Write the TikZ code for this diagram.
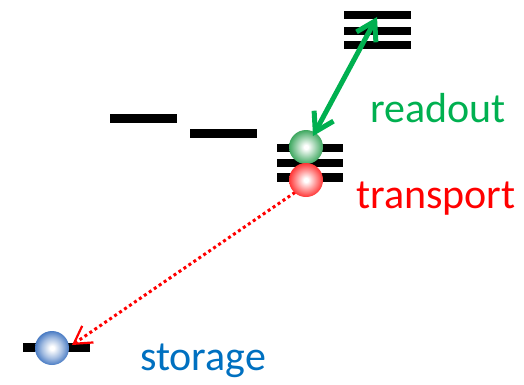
\documentclass[tikz,border=0pt]{standalone}
\usepackage{fontspec}
\setmainfont{Carlito}
\usetikzlibrary{arrows.meta}
\definecolor{rdgreen}{HTML}{00B050}
\definecolor{trred}{HTML}{FF0000}
\definecolor{stblue}{HTML}{0070C0}
\definecolor{gballc}{HTML}{3FA860}
\definecolor{rballc}{HTML}{FF3535}
\definecolor{bballc}{HTML}{4A7CC4}
% glossy particle shadings: white core, coloured rim
\pgfdeclareradialshading{gballsh}{\pgfpoint{0bp}{0bp}}{color(0bp)=(white); color(3bp)=(white); color(15bp)=(gballc!55); color(25bp)=(gballc); color(31bp)=(gballc!80!black); color(50bp)=(gballc!80!black)}
\pgfdeclareradialshading{rballsh}{\pgfpoint{0bp}{0bp}}{color(0bp)=(white); color(3bp)=(white); color(15bp)=(rballc!55); color(25bp)=(rballc); color(31bp)=(rballc!85!black); color(50bp)=(rballc!85!black)}
\pgfdeclareradialshading{bballsh}{\pgfpoint{0bp}{0bp}}{color(0bp)=(white); color(3bp)=(white); color(15bp)=(bballc!50); color(25bp)=(bballc); color(31bp)=(bballc!80!black); color(50bp)=(bballc!80!black)}
\tikzset{
  level/.style={fill=black, draw=none},
  ball/.style={circle, minimum size=34pt, inner sep=0pt, draw=none},
  label text/.style={font=\fontsize{42}{50}\selectfont, inner sep=0pt, anchor=base west},
}
\begin{document}
\begin{tikzpicture}[x=1pt,y=-1pt]
\useasboundingbox (0,0) rectangle (524,384);
% energy levels
\fill[level] (344,11) rectangle (411,19);
\fill[level] (344,27) rectangle (411,35);
\fill[level] (344,41) rectangle (411,49);
\fill[level] (110,114) rectangle (177,123);
\fill[level] (190,129) rectangle (257,138);
\fill[level] (277,144) rectangle (343,152);
\fill[level] (277,159) rectangle (343,167);
\fill[level] (277,173) rectangle (343,182);
\fill[level] (23,343) rectangle (90,352);
% connector end points
\coordinate (rdtop) at (377,17);
\coordinate (rdbot) at (313,136);
\coordinate (trstart) at (300,189);
\coordinate (sttip) at (72,345);
% transport path (behind the balls)
\draw[trred, line width=3pt, dash pattern=on 3pt off 3pt,
      -{Straight Barb[length=17pt,width=20pt,line width=2.2pt]}] (trstart) -- (sttip);
% particles
\node[ball, shading=gballsh] (gball) at (306,147) {};
\node[ball, shading=rballsh] (rball) at (306,180) {};
\node[ball, shading=bballsh] (bball) at (52,348) {};
% readout transition
\draw[rdgreen, line width=5pt, line cap=round,
      {Straight Barb[length=18pt,width=22pt]}-{Straight Barb[length=18pt,width=22pt]}] (rdbot) -- (rdtop);
% labels
\node[label text, text=rdgreen] (rdlbl) at (370,122) {readout};
\node[label text, text=trred] (trlbl) at (356,208) {transport};
\node[label text, text=stblue] (stlbl) at (140,370) {storage};
\end{tikzpicture}
\end{document}
